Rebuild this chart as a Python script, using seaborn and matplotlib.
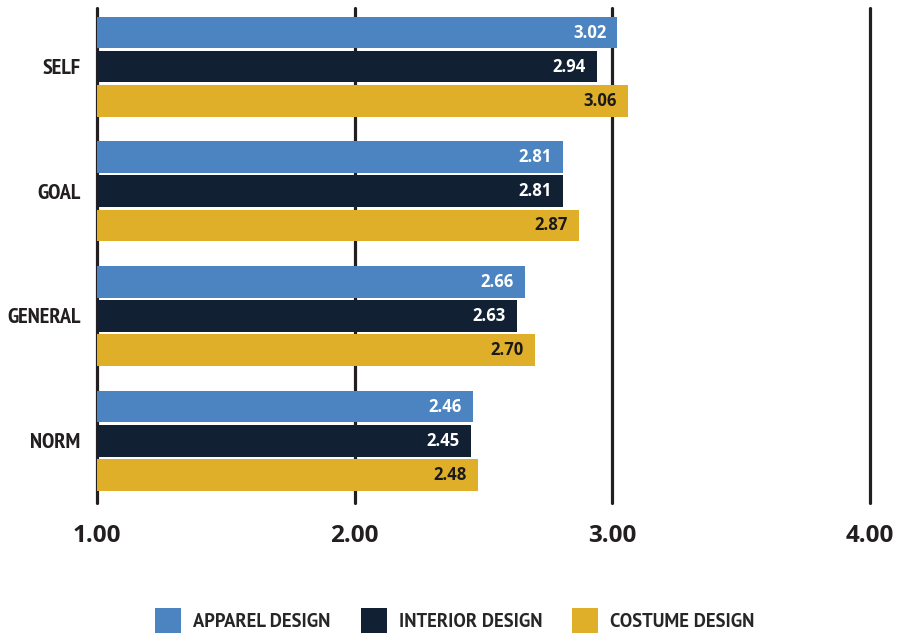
import matplotlib
matplotlib.use("Agg")
import matplotlib.pyplot as plt
import seaborn as sns
import pandas as pd
from matplotlib.patches import Patch

categories = ["SELF", "GOAL", "GENERAL", "NORM"]
series = ["APPAREL DESIGN", "INTERIOR DESIGN", "COSTUME DESIGN"]
apparel = [3.02, 2.81, 2.66, 2.46]
interior = [2.94, 2.81, 2.63, 2.45]
costume = [3.06, 2.87, 2.70, 2.48]
xticks = [1.0, 2.0, 3.0, 4.0]
xtick_labels = ["1.00", "2.00", "3.00", "4.00"]

colors = ["#4b84c0", "#112033", "#e0af2a"]
label_colors = ["white", "white", "#1a1a1a"]

rows = []
for s, vals in zip(series, [apparel, interior, costume]):
    for c, v in zip(categories, vals):
        rows.append({"category": c, "series": s, "value": v})
df = pd.DataFrame(rows)

sns.set_style("white")
fig = plt.figure(figsize=(8.99, 6.33), dpi=100)
ax = fig.add_axes([97 / 899, 1 - 503 / 633, (870 - 97) / 899, (503 - 8) / 633])

sns.barplot(data=df, y="category", x="value", hue="series", order=categories,
            hue_order=series, palette=colors, orient="h", width=0.82, gap=0.07,
            ax=ax, legend=False, saturation=1, edgecolor="none")

ax.set_xlim(1.0, 4.0)
ax.set_ylim(3.5, -0.47)
ax.set_xticks(xticks)
ax.set_xticklabels(xtick_labels, fontfamily="Open Sans", fontweight="bold",
                   fontsize=17.5, color="#231f20")
ax.tick_params(axis="x", length=0, pad=15)
ax.tick_params(axis="y", length=0, pad=12)
for t in ax.get_yticklabels():
    t.set_fontfamily("PT Sans Narrow")
    t.set_fontweight("bold")
    t.set_fontsize(16)
    t.set_color("#231f20")
ax.set_xlabel("")
ax.set_ylabel("")
for sp in ax.spines.values():
    sp.set_visible(False)
ax.set_axisbelow(True)
ax.grid(axis="x", color="#231f20", linewidth=2.3)
ax.grid(axis="y", visible=False)
for gl in ax.get_xgridlines():
    gl.set_clip_on(False)

for cont, lc in zip(ax.containers, label_colors):
    for p in cont.patches:
        w = p.get_x() + p.get_width()
        y = p.get_y() + p.get_height() / 2
        ax.annotate(f"{w:.2f}", xy=(w, y), xytext=(-8, 0), textcoords="offset points",
                    ha="right", va="center", color=lc, fontsize=12,
                    fontfamily="Open Sans", fontweight="bold")

handles = [Patch(facecolor=c, edgecolor="none") for c in colors]
fig.legend(handles, series, loc="center", bbox_to_anchor=(0.506, 1 - 621 / 633), ncol=3,
           frameon=False, handlelength=1.4, handleheight=1.7, handletextpad=0.65,
           columnspacing=1.6, borderpad=0, borderaxespad=0,
           prop={"family": "PT Sans", "weight": "bold", "size": 13.4})

fig.savefig("out.png", dpi=100, facecolor="white")
